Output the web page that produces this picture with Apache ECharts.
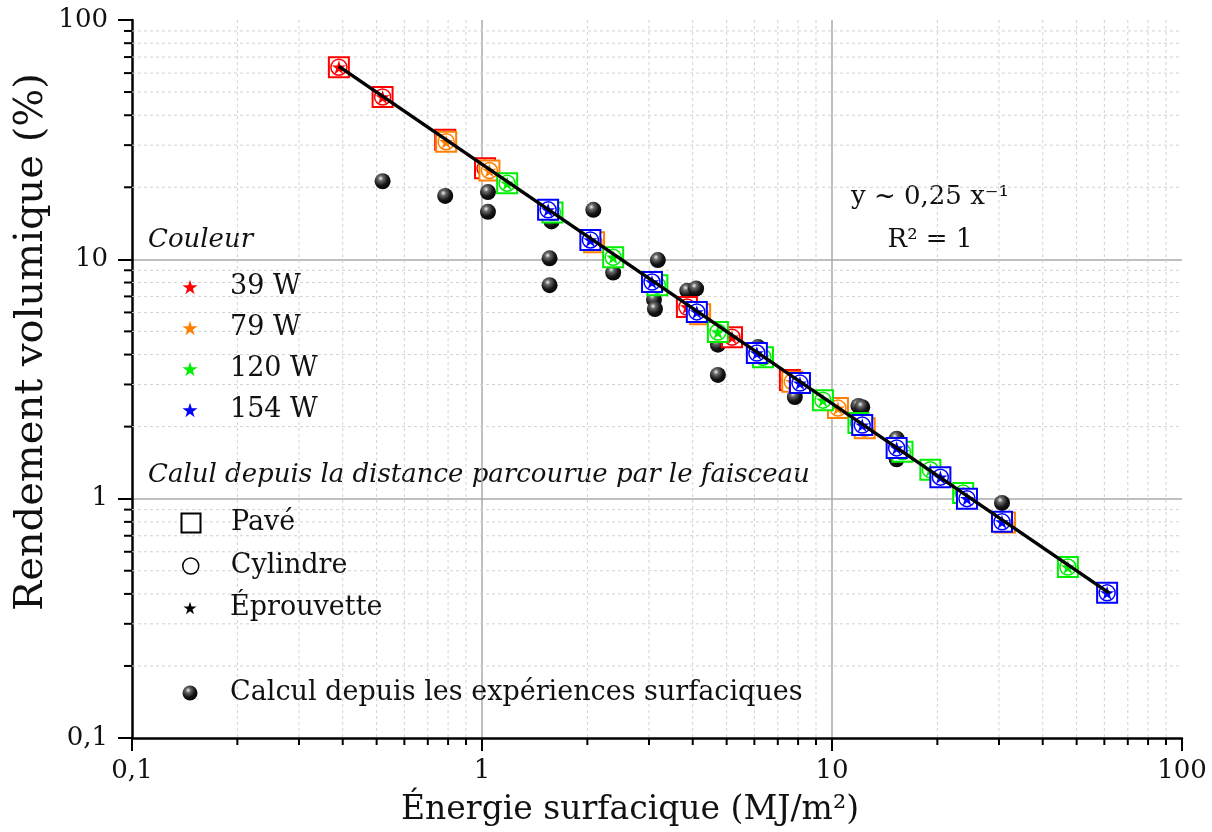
<!DOCTYPE html>
<html>
<head>
<meta charset="utf-8">
<script src="https://cdn.jsdelivr.net/npm/echarts@6/dist/echarts.min.js"></script>
<style>
  html, body { margin: 0; padding: 0; background: #fff; }
  #chart { width: 1212px; height: 832px; }
</style>
</head>
<body>
<div id="chart"></div>
<script>
// Values: [Énergie surfacique (MJ/m2), Rendement volumique (%)]
const pts39W = [[0.39, 63.5], [0.52, 47.7], [0.785, 31.6], [1.02, 24.0], [3.85, 6.32], [5.18, 4.73], [7.58, 3.13]];
const pts79W = [[0.79, 31.0], [1.05, 23.5], [2.09, 11.8], [4.2, 5.9], [7.7, 3.08], [10.4, 2.39], [12.4, 1.97], [31.2, 0.795]];
const pts120W = [[1.18, 20.8], [1.59, 15.7], [2.37, 10.2], [3.17, 7.8], [4.72, 4.97], [6.35, 3.9], [9.42, 2.58],
  [11.9, 2.07], [15.9, 1.57], [19.1, 1.32], [23.7, 1.055], [47.2, 0.518]];
const pts154W = [[1.545, 16.1], [2.04, 12.05], [3.06, 8.04], [4.11, 6.03], [6.1, 4.06], [8.1, 3.04], [12.2, 2.03],
  [15.3, 1.63], [20.4, 1.23], [24.3, 1.0], [30.6, 0.8], [61.1, 0.404]];
const ptsSurfaciques = [[0.52, 21.2], [0.785, 18.4], [1.04, 19.1], [1.04, 15.8], [2.08, 16.1], [1.56, 10.1], [1.56, 7.8],
  [1.58, 14.4], [3.18, 9.93], [2.37, 8.8], [3.1, 6.8], [3.12, 6.2], [3.86, 7.4], [4.09, 7.55], [4.72, 4.4], [4.72, 3.29],
  [6.15, 4.3], [7.83, 2.66], [11.9, 2.44], [12.2, 2.41], [15.3, 1.78], [15.3, 1.46], [30.6, 0.96]];
const fitLine = [[0.39, 64.0], [62, 0.403]];

const powerNames = ['39 W', '79 W', '120 W', '154 W'];
const powerColors = ['#ff0000', '#ff8000', '#00ee00', '#0000ff'];
const powerData = [pts39W, pts79W, pts120W, pts154W];

const minorX = [0.2, 0.3, 0.4, 0.5, 0.6, 0.7, 0.8, 0.9, 2, 3, 4, 5, 6, 7, 8, 9, 20, 30, 40, 50, 60, 70, 80, 90];
const minorY = [0.2, 0.3, 0.4, 0.5, 0.6, 0.7, 0.8, 0.9, 2, 3, 4, 5, 6, 7, 8, 9, 20, 30, 40, 50, 60, 70, 80, 90];
const X_MIN = 0.1, X_MAX = 100, Y_MIN = 0.1, Y_MAX = 100;

const FONT = 'DejaVu Serif';
const STAR = 'path://M50,0L61.2,34.5L97.6,34.5L68.2,55.9L79.4,90.5L50,69.1L20.6,90.5L31.8,55.9L2.4,34.5L38.8,34.5Z';
const SQUARE = 'path://M0,0L100,0L100,100L0,100Z';
const BALL = {
  type: 'radial', x: 0.38, y: 0.32, r: 0.75,
  colorStops: [
    { offset: 0, color: '#f4f4f4' },
    { offset: 0.22, color: '#6a6a6a' },
    { offset: 0.6, color: '#151515' },
    { offset: 1, color: '#000' }
  ]
};

const chart = echarts.init(document.getElementById('chart'));

// minor grid lines + minor ticks, positioned through the axes' own log scales
function renderMinor(params, api) {
  const kind = api.value(2);
  if (kind === 0) {
    const v = api.value(0);
    const top = api.coord([v, Y_MAX]);
    const bot = api.coord([v, Y_MIN]);
    return { type: 'group', children: [
      { type: 'line', shape: { x1: top[0], y1: top[1], x2: bot[0], y2: bot[1] },
        style: { stroke: '#d2d2d2', lineWidth: 1, lineDash: [3, 3] } },
      { type: 'line', shape: { x1: bot[0], y1: bot[1], x2: bot[0], y2: bot[1] + 7 },
        style: { stroke: '#000', lineWidth: 2 } }
    ] };
  }
  const v = api.value(1);
  const left = api.coord([X_MIN, v]);
  const right = api.coord([X_MAX, v]);
  return { type: 'group', children: [
    { type: 'line', shape: { x1: left[0], y1: left[1], x2: right[0], y2: right[1] },
      style: { stroke: '#d2d2d2', lineWidth: 1, lineDash: [3, 3] } },
    { type: 'line', shape: { x1: left[0] - 8, y1: left[1], x2: left[0], y2: left[1] },
      style: { stroke: '#000', lineWidth: 2 } }
  ] };
}

const series = [{
  type: 'custom',
  renderItem: renderMinor,
  silent: true,
  z: 1,
  data: minorX.map(v => [v, 1, 0]).concat(minorY.map(v => [1, v, 1]))
}, {
  name: 'Calcul depuis les expériences surfaciques',
  type: 'scatter',
  z: 2,
  symbol: 'circle',
  symbolSize: 16,
  itemStyle: { color: BALL, opacity: 1 },
  data: ptsSurfaciques
}];

powerNames.forEach((name, i) => {
  const c = powerColors[i];
  series.push({
    type: 'scatter', z: 3, symbol: 'rect', symbolSize: 20,
    itemStyle: { color: '#fff', borderColor: c, borderWidth: 2, opacity: 1 },
    data: powerData[i]
  }, {
    type: 'scatter', z: 3, symbol: 'circle', symbolSize: 16,
    itemStyle: { color: '#fff', borderColor: c, borderWidth: 1.5, opacity: 1 },
    data: powerData[i]
  }, {
    name: name, type: 'scatter', z: 3, symbol: STAR, symbolSize: 14,
    itemStyle: { color: c, opacity: 1 },
    data: powerData[i]
  });
});

// shape-only entries for the legend
series.push(
  { name: 'Pavé', type: 'scatter', symbol: SQUARE, data: [],
    itemStyle: { color: '#fff', borderColor: '#000', borderWidth: 2, opacity: 1 } },
  { name: 'Cylindre', type: 'scatter', symbol: 'circle', data: [],
    itemStyle: { color: '#fff', borderColor: '#000', borderWidth: 1.5, opacity: 1 } },
  { name: 'Éprouvette', type: 'scatter', symbol: STAR, data: [], itemStyle: { color: '#000', opacity: 1 } }
);

series.push({
  type: 'line', z: 5, symbol: 'none', silent: true,
  lineStyle: { color: '#000', width: 3.5 },
  data: fitLine
});

// icon centred at x=185, label text starting at x~231
function oneLegend(name, y, size, style) {
  return {
    data: [{ name: name, itemStyle: Object.assign({ opacity: 1 }, style) }],
    left: 185 - size / 2, top: y - 15,
    itemWidth: size, itemHeight: size,
    textStyle: { fontFamily: FONT, fontSize: 27, color: '#111', lineHeight: 30,
      padding: [0, 0, 0, 225 - (185 + size / 2 + 5)] },
    selectedMode: false
  };
}

const legends = [];
powerNames.forEach((name, i) => {
  legends.push(oneLegend(name, 282 + 41 * i, 15, { color: powerColors[i] }));
});
legends.push(
  oneLegend('Pavé', 518, 19, { color: '#fff', borderColor: '#000', borderWidth: 2 }),
  oneLegend('Cylindre', 561, 16, { color: '#fff', borderColor: '#000', borderWidth: 1.5 }),
  oneLegend('Éprouvette', 603, 13, { color: '#000' }),
  oneLegend('Calcul depuis les expériences surfaciques', 688, 15, { color: BALL })
);

const option = {
  animation: false,
  backgroundColor: '#fff',
  grid: { left: 132, right: 30, top: 20, bottom: 94 },
  xAxis: {
    type: 'log', logBase: 10, min: X_MIN, max: X_MAX,
    axisLine: { lineStyle: { color: '#000', width: 2.5 } },
    axisTick: { length: 13, lineStyle: { color: '#000', width: 2 } },
    axisLabel: { margin: 20, color: '#111', fontFamily: FONT, fontSize: 26,
      formatter: v => String(v).replace('.', ',') },
    splitLine: { show: true, showMinLine: false, showMaxLine: false, lineStyle: { color: '#aaa', width: 1.5 } }
  },
  yAxis: {
    type: 'log', logBase: 10, min: Y_MIN, max: Y_MAX,
    axisLine: { lineStyle: { color: '#000', width: 2.5 } },
    axisTick: { length: 14, lineStyle: { color: '#000', width: 2 } },
    axisLabel: { margin: 24, color: '#111', fontFamily: FONT, fontSize: 26,
      formatter: v => String(v).replace('.', ',') },
    splitLine: { show: true, showMinLine: false, showMaxLine: false, lineStyle: { color: '#aaa', width: 1.5 } }
  },
  legend: legends,
  graphic: [
    { type: 'text', left: 148, top: 227, silent: true,
      style: { text: 'Couleur', font: 'italic 26px "' + FONT + '"', fill: '#111' } },
    { type: 'text', left: 148, top: 462, silent: true,
      style: { text: 'Calul depuis la distance parcourue par le faisceau', font: 'italic 26px "' + FONT + '"', fill: '#111' } },
    { type: 'text', x: 32, y: 342, rotation: Math.PI / 2, silent: true,
      style: { text: 'Rendement volumique (%)', font: '40px "' + FONT + '"', fill: '#111',
        align: 'center', verticalAlign: 'middle' } },
    { type: 'text', x: 630, y: 810, silent: true,
      style: { text: 'Énergie surfacique (MJ/m²)', font: '33px "' + FONT + '"', fill: '#111',
        align: 'center', verticalAlign: 'middle' } },
    { type: 'text', x: 930, y: 197, silent: true,
      style: { text: 'y ~ 0,25 x⁻¹', font: '26px "' + FONT + '"', fill: '#111', align: 'center', verticalAlign: 'middle' } },
    { type: 'text', x: 930, y: 240, silent: true,
      style: { text: 'R² = 1', font: '26px "' + FONT + '"', fill: '#111', align: 'center', verticalAlign: 'middle' } }
  ],
  series: series
};

chart.setOption(option);
</script>
</body>
</html>
